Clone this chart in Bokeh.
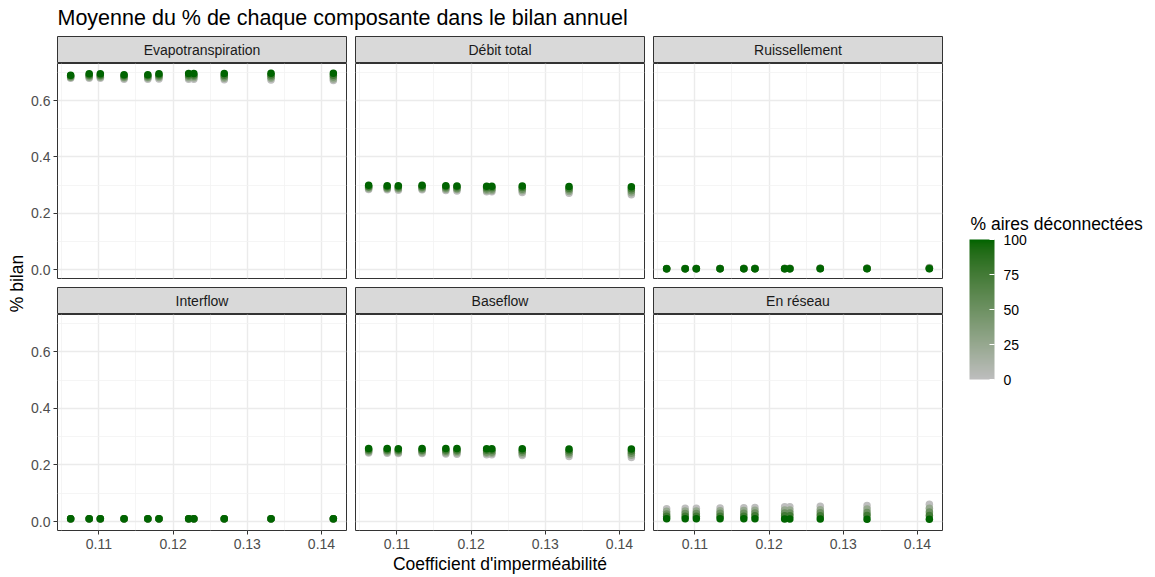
import math
from bokeh.plotting import figure
from bokeh.models import (ColumnDataSource, Range1d, FixedTicker, NumeralTickFormatter,
                          ColorBar, LinearColorMapper)
from bokeh.layouts import column, row
from bokeh.embed import file_html
from bokeh.resources import INLINE
from bokeh.core.properties import value

# ---------------- data ----------------
X_COEF = [0.1062, 0.1087, 0.1102, 0.1134, 0.1166, 0.1181, 0.1221, 0.1228, 0.1269, 0.1332, 0.1416]
PCT_LEVELS = [0, 25, 50, 75, 100]
COMPONENTS = ["Evapotranspiration", "Débit total", "Ruissellement", "Interflow", "Baseflow", "En réseau"]

# one row per level of PCT_LEVELS, one value per X_COEF
EVAP = [
    [0.679, 0.679, 0.679, 0.676, 0.676, 0.677, 0.676, 0.676, 0.674, 0.673, 0.671],
    [0.682, 0.683, 0.683, 0.680, 0.680, 0.682, 0.681, 0.681, 0.679, 0.679, 0.677],
    [0.685, 0.687, 0.687, 0.684, 0.684, 0.686, 0.686, 0.686, 0.685, 0.685, 0.684],
    [0.688, 0.691, 0.691, 0.688, 0.688, 0.691, 0.691, 0.691, 0.690, 0.691, 0.690],
    [0.690, 0.695, 0.695, 0.692, 0.692, 0.695, 0.696, 0.696, 0.696, 0.697, 0.697],
]
DEBIT = [
    [0.284, 0.283, 0.282, 0.283, 0.281, 0.279, 0.276, 0.276, 0.274, 0.271, 0.266],
    [0.288, 0.287, 0.286, 0.287, 0.285, 0.284, 0.281, 0.281, 0.280, 0.277, 0.273],
    [0.292, 0.290, 0.290, 0.291, 0.290, 0.288, 0.286, 0.286, 0.285, 0.283, 0.280],
    [0.295, 0.294, 0.294, 0.295, 0.294, 0.293, 0.291, 0.291, 0.291, 0.289, 0.287],
    [0.299, 0.298, 0.298, 0.299, 0.298, 0.297, 0.296, 0.296, 0.297, 0.295, 0.294],
]
RUISS = [
    [0.004, 0.004, 0.004, 0.004, 0.005, 0.005, 0.005, 0.005, 0.005, 0.006, 0.007],
    [0.004, 0.004, 0.004, 0.004, 0.004, 0.004, 0.004, 0.004, 0.005, 0.005, 0.006],
    [0.003, 0.003, 0.004, 0.004, 0.004, 0.004, 0.004, 0.004, 0.004, 0.004, 0.005],
    [0.003, 0.003, 0.003, 0.003, 0.003, 0.003, 0.003, 0.003, 0.004, 0.004, 0.004],
    [0.003, 0.003, 0.003, 0.003, 0.003, 0.003, 0.003, 0.003, 0.003, 0.003, 0.003],
]
INTER = [
    [0.009, 0.009, 0.009, 0.009, 0.009, 0.009, 0.009, 0.009, 0.009, 0.009, 0.009],
    [0.009, 0.009, 0.009, 0.009, 0.009, 0.009, 0.009, 0.009, 0.009, 0.009, 0.009],
    [0.010, 0.010, 0.010, 0.010, 0.010, 0.010, 0.010, 0.010, 0.010, 0.010, 0.010],
    [0.010, 0.010, 0.010, 0.010, 0.010, 0.010, 0.010, 0.010, 0.010, 0.010, 0.010],
    [0.010, 0.010, 0.010, 0.010, 0.010, 0.010, 0.010, 0.010, 0.010, 0.010, 0.010],
]
BASE = [
    [0.242, 0.241, 0.240, 0.240, 0.239, 0.238, 0.236, 0.236, 0.233, 0.230, 0.226],
    [0.246, 0.246, 0.244, 0.244, 0.243, 0.243, 0.241, 0.241, 0.239, 0.237, 0.234],
    [0.250, 0.250, 0.249, 0.249, 0.248, 0.248, 0.246, 0.246, 0.245, 0.243, 0.241],
    [0.254, 0.254, 0.253, 0.253, 0.253, 0.253, 0.252, 0.252, 0.251, 0.250, 0.249],
    [0.258, 0.258, 0.257, 0.258, 0.258, 0.258, 0.257, 0.257, 0.257, 0.256, 0.256],
]
RESEAU = [
    [0.045, 0.047, 0.047, 0.048, 0.049, 0.050, 0.052, 0.052, 0.054, 0.057, 0.061],
    [0.036, 0.037, 0.037, 0.038, 0.039, 0.040, 0.041, 0.041, 0.042, 0.044, 0.047],
    [0.027, 0.028, 0.028, 0.029, 0.029, 0.030, 0.030, 0.030, 0.031, 0.032, 0.034],
    [0.019, 0.019, 0.019, 0.019, 0.019, 0.020, 0.020, 0.020, 0.020, 0.021, 0.021],
    [0.010, 0.010, 0.010, 0.010, 0.010, 0.010, 0.009, 0.009, 0.009, 0.008, 0.008],
]
SERIES = [EVAP, DEBIT, RUISS, INTER, BASE, RESEAU]

X_TICKS = [0.11, 0.12, 0.13, 0.14]
X_MINOR = [0.105, 0.115, 0.125, 0.135]
Y_TICKS = [0.0, 0.2, 0.4, 0.6]
Y_MINOR = [0.1, 0.3, 0.5, 0.7]
LEGEND_TICKS = [0, 25, 50, 75, 100]

TITLE = "Moyenne du % de chaque composante dans le bilan annuel"
X_LABEL = "Coefficient d'imperméabilité"
Y_LABEL = "% bilan"
LEGEND_TITLE = "% aires déconnectées"

# ---------------- colour scale (CIELAB interpolation, like ggplot) ----------------
LOW, HIGH = "#BEBEBE", "#006400"
WN = (0.95047, 1.0, 1.08883)


def hex_to_lab(h):
    rgb = [int(h[i:i + 2], 16) / 255 for i in (1, 3, 5)]
    lin = [c / 12.92 if c <= 0.04045 else ((c + 0.055) / 1.055) ** 2.4 for c in rgb]
    r, g, b = lin
    X = 0.4124564 * r + 0.3575761 * g + 0.1804375 * b
    Y = 0.2126729 * r + 0.7151522 * g + 0.0721750 * b
    Z = 0.0193339 * r + 0.1191920 * g + 0.9503041 * b

    def f(t):
        return t ** (1 / 3) if t > 0.008856 else 7.787 * t + 16 / 116
    fx, fy, fz = f(X / WN[0]), f(Y / WN[1]), f(Z / WN[2])
    return (116 * fy - 16, 500 * (fx - fy), 200 * (fy - fz))


def lab_to_hex(L, a, bb):
    fy = (L + 16) / 116
    fx = fy + a / 500
    fz = fy - bb / 200

    def finv(t):
        return t ** 3 if t ** 3 > 0.008856 else (t - 16 / 116) / 7.787
    X, Y, Z = finv(fx) * WN[0], finv(fy) * WN[1], finv(fz) * WN[2]
    r = 3.2404542 * X - 1.5371385 * Y - 0.4985314 * Z
    g = -0.9692660 * X + 1.8760108 * Y + 0.0415560 * Z
    b = 0.0556434 * X - 0.2040259 * Y + 1.0572252 * Z

    def gam(c):
        c = max(0.0, min(1.0, c))
        return 12.92 * c if c <= 0.0031308 else 1.055 * c ** (1 / 2.4) - 0.055
    return "#%02x%02x%02x" % tuple(int(round(gam(c) * 255)) for c in (r, g, b))


l0, l1 = hex_to_lab(LOW), hex_to_lab(HIGH)
PALETTE = [lab_to_hex(*[l0[k] + (l1[k] - l0[k]) * i / 255 for k in range(3)]) for i in range(256)]
MAPPER = LinearColorMapper(palette=PALETTE, low=0, high=100)

# ---------------- ranges (ggplot 5% expansion) ----------------
all_y = [v for s in SERIES for lvl in s for v in lvl]
xmin, xmax = min(X_COEF), max(X_COEF)
ymin, ymax = min(all_y), max(all_y)
xpad, ypad = 0.05 * (xmax - xmin), 0.05 * (ymax - ymin)

FONT = "Liberation Sans"
FRAME_W = 289
STRIP_H = 27
ROW_FRAME_H = [215, 216]
ROW_GAP = 9
BOTTOM_H = 45
LEFT_BORDER = [29, 8, 8]
TITLE_H = 36
YLAB_W = 28


def make_strip(name, c):
    s = figure(frame_width=FRAME_W, frame_height=STRIP_H, x_range=Range1d(0, 1), y_range=Range1d(0, 1),
               x_axis_location=None, y_axis_location=None, toolbar_location=None,
               output_backend="svg", min_border=0)
    s.min_border_left = LEFT_BORDER[c]
    s.min_border_right = 1
    s.grid.visible = False
    s.background_fill_color = "#D9D9D9"
    s.outline_line_color = "#333333"
    s.outline_line_width = 1
    s.text(x=[0.5], y=[0.5], text=[name], text_align="center", text_baseline="middle",
           text_font=value(FONT), text_font_size="14px", text_color="#1A1A1A")
    return s


def style_axis(ax):
    ax.axis_line_color = None
    ax.major_tick_line_color = "#333333"
    ax.major_tick_out = 4
    ax.major_tick_in = 0
    ax.minor_tick_line_color = None
    ax.major_label_text_color = "#4D4D4D"
    ax.major_label_text_font = FONT
    ax.major_label_text_font_size = "14px"
    ax.major_label_standoff = 4


def make_panel(i, series):
    r, c = divmod(i, 3)
    bottom = r == 1
    left = c == 0
    p = figure(frame_width=FRAME_W, frame_height=ROW_FRAME_H[r],
               x_range=Range1d(xmin - xpad, xmax + xpad), y_range=Range1d(ymin - ypad, ymax + ypad),
               x_axis_location="below" if bottom else None,
               y_axis_location="left" if left else None,
               toolbar_location=None, output_backend="svg", min_border=0)
    p.min_border_left = LEFT_BORDER[c]
    p.min_border_right = 1
    p.min_border_top = 0
    p.min_border_bottom = BOTTOM_H if bottom else ROW_GAP
    p.outline_line_color = "#333333"
    p.outline_line_width = 1
    p.background_fill_color = "white"

    p.xgrid.ticker = FixedTicker(ticks=X_TICKS, minor_ticks=X_MINOR)
    p.ygrid.ticker = FixedTicker(ticks=Y_TICKS, minor_ticks=Y_MINOR)
    for g in (p.xgrid, p.ygrid):
        g.grid_line_color = "#EBEBEB"
        g.grid_line_width = 1.4
        g.minor_grid_line_color = "#F2F2F2"
        g.minor_grid_line_width = 0.8

    if bottom:
        p.xaxis.ticker = FixedTicker(ticks=X_TICKS)
        p.xaxis.formatter = NumeralTickFormatter(format="0.00")
        style_axis(p.xaxis)
        if c == 1:
            p.xaxis.axis_label = X_LABEL
            p.xaxis.axis_label_text_font = FONT
            p.xaxis.axis_label_text_font_size = "17.5px"
            p.xaxis.axis_label_text_font_style = "normal"
            p.xaxis.axis_label_text_color = "black"
            p.xaxis.axis_label_standoff = 2
    if left:
        p.yaxis.ticker = FixedTicker(ticks=Y_TICKS)
        p.yaxis.formatter = NumeralTickFormatter(format="0.0")
        style_axis(p.yaxis)
        p.yaxis.major_label_standoff = 3

    xs, ys, pcts = [], [], []
    for li, lvl in enumerate(PCT_LEVELS):
        xs += X_COEF
        ys += series[li]
        pcts += [lvl] * len(X_COEF)
    src = ColumnDataSource(dict(x=xs, y=ys, pct=pcts))
    p.scatter("x", "y", source=src, size=7.5, line_color=None,
              fill_color={"field": "pct", "transform": MAPPER})
    return p


cells = []
for i, (name, series) in enumerate(zip(COMPONENTS, SERIES)):
    c = i % 3
    cells.append(column(make_strip(name, c), make_panel(i, series), spacing=0))

grid = column(row(*cells[:3], spacing=0), row(*cells[3:], spacing=0), spacing=0)

GRID_H = 2 * STRIP_H + ROW_FRAME_H[0] + ROW_GAP + ROW_FRAME_H[1] + BOTTOM_H
GRID_BOTTOM = TITLE_H + GRID_H          # page y of the bottom of the panel block
PANELS_W = (LEFT_BORDER[0] + FRAME_W + 1) + 2 * (LEFT_BORDER[1] + FRAME_W + 1)
LEG_W = 205


def blank(w, h):
    f = figure(width=w, height=h, x_range=Range1d(0, w), y_range=Range1d(0, h),
               x_axis_location=None, y_axis_location=None, toolbar_location=None,
               output_backend="svg", min_border=0)
    f.grid.visible = False
    f.outline_line_color = None
    return f


title_fig = blank(YLAB_W + PANELS_W + LEG_W, TITLE_H)
title_fig.text(x=[57], y=[TITLE_H - 17], text=[TITLE], text_align="left", text_baseline="middle",
               text_font=value(FONT), text_font_size="21.5px", text_color="black")

ylab_fig = blank(YLAB_W, GRID_H)
ylab_fig.text(x=[16], y=[GRID_BOTTOM - 283], text=[Y_LABEL], angle=math.pi / 2, text_align="center",
              text_baseline="middle", text_font=value(FONT), text_font_size="17.5px", text_color="black")

leg_fig = blank(LEG_W, GRID_H)
leg_x0 = YLAB_W + PANELS_W               # page x of the legend figure
cb = ColorBar(color_mapper=MAPPER, ticker=FixedTicker(ticks=LEGEND_TICKS),
              orientation="vertical", width=25, height=140,
              location=(969 - leg_x0, GRID_BOTTOM - 379), padding=0,
              major_label_text_font=FONT, major_label_text_font_size="14px",
              major_label_text_color="black", label_standoff=9,
              major_tick_line_color="white", major_tick_in=5, major_tick_out=0,
              minor_tick_line_color=None, bar_line_color=None,
              background_fill_color=None, border_line_color=None)
leg_fig.add_layout(cb, "center")
leg_fig.text(x=[970 - leg_x0], y=[GRID_BOTTOM - 223], text=[LEGEND_TITLE], text_align="left",
             text_baseline="middle", text_font=value(FONT), text_font_size="17.5px", text_color="black")

layout = column(title_fig, row(ylab_fig, grid, leg_fig, spacing=0), spacing=0)

open("out.html", "w").write(file_html(layout, INLINE))
